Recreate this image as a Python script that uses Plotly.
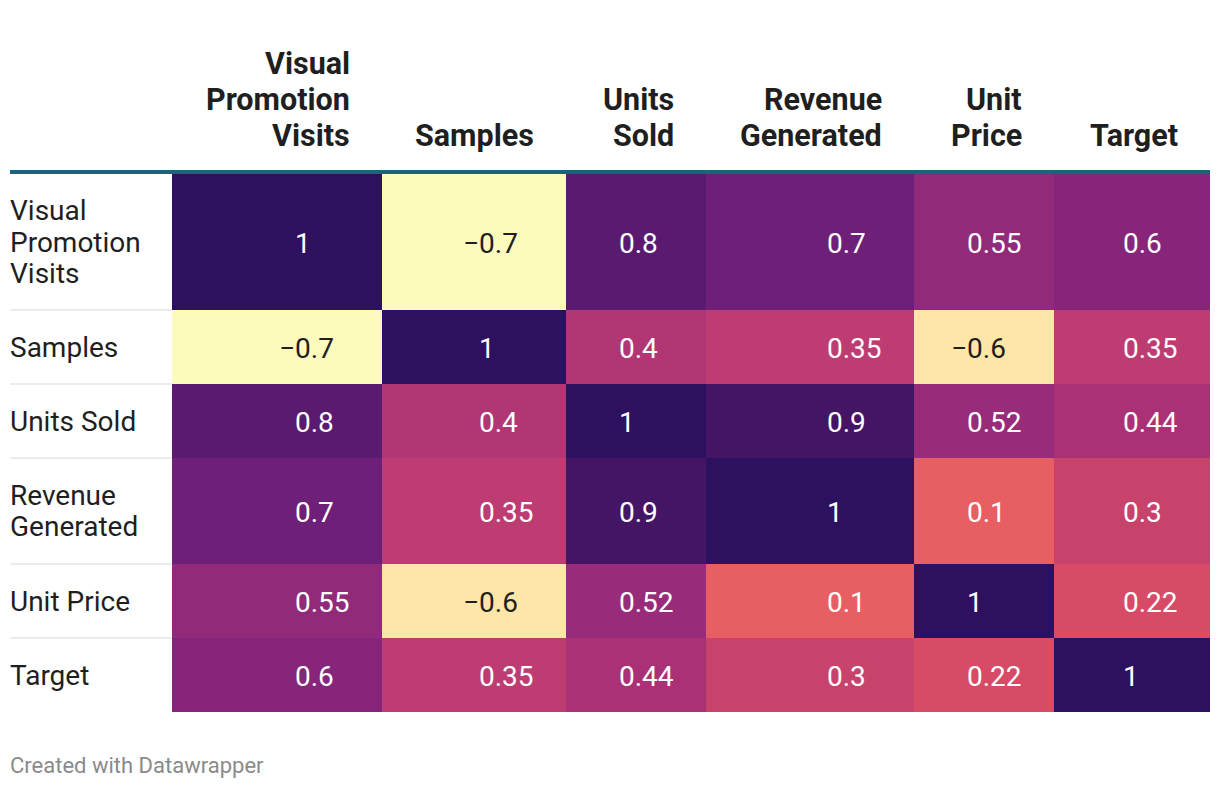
import plotly.graph_objects as go

# ---- data ----
row_labels = ["Visual<br>Promotion<br>Visits", "Samples", "Units Sold",
              "Revenue<br>Generated", "Unit Price", "Target"]
col_labels = ["Visual<br>Promotion<br>Visits", "Samples", "Units<br>Sold",
              "Revenue<br>Generated", "Unit<br>Price", "Target"]
corr = [
    [1.0, -0.7, 0.8, 0.7, 0.55, 0.6],
    [-0.7, 1.0, 0.4, 0.35, -0.6, 0.35],
    [0.8, 0.4, 1.0, 0.9, 0.52, 0.44],
    [0.7, 0.35, 0.9, 1.0, 0.1, 0.3],
    [0.55, -0.6, 0.52, 0.1, 1.0, 0.22],
    [0.6, 0.35, 0.44, 0.3, 0.22, 1.0],
]
footer = "Created with Datawrapper"

# ---- layout / style constants ----
OFF = 8                      # default page body margin
W, H = 1220 - OFF, 788 - 2 * OFF
col_edges = [172, 382, 566, 706, 914, 1054, 1210]
row_edges = [174, 310, 384, 458, 564, 638, 712]
ZMIN, ZMAX = -0.7, 1.0
color_anchors = [
    (-0.7, "#fcfabd"), (-0.6, "#fce6a8"), (0.1, "#e75f63"), (0.22, "#d74b67"),
    (0.3, "#c7436c"), (0.35, "#bd3c71"), (0.4, "#b23574"), (0.44, "#ab3177"),
    (0.52, "#982c7a"), (0.55, "#922a7a"), (0.6, "#86257a"), (0.7, "#6e2078"),
    (0.8, "#5a1a70"), (0.9, "#441565"), (1.0, "#2d1160"),
]
colorscale = [[(v - ZMIN) / (ZMAX - ZMIN), c] for v, c in color_anchors]
FONT = "Roboto"
TXT = "#1f1f1f"
PAD = 32

fig = go.Figure()
fig.add_trace(go.Heatmap(
    z=corr, x=col_edges, y=row_edges, zmin=ZMIN, zmax=ZMAX,
    colorscale=colorscale, showscale=False, hoverinfo="skip",
))

ann = []
shapes = []
base = dict(showarrow=False, borderpad=0, borderwidth=0)

# header lines
for j, lab in enumerate(col_labels):
    lines = lab.split("<br>")
    xr = col_edges[j + 1] - PAD
    n = len(lines)
    for k, ln in enumerate(lines):
        yc = 135 - (n - 1 - k) * 36
        ann.append(dict(x=xr, y=yc, text=ln, xanchor="right", yanchor="middle",
                        font=dict(family=FONT, size=30.5, color=TXT, weight="bold"),
                        **base))

# header rule
shapes.append(dict(type="line", x0=10, x1=1210, y0=172, y1=172,
                   line=dict(color="#19637b", width=4), layer="above"))

# row labels + separators
for i, lab in enumerate(row_labels):
    lines = lab.split("<br>")
    n = len(lines)
    yc0 = (row_edges[i] + row_edges[i + 1]) / 2
    for k, ln in enumerate(lines):
        yc = yc0 + (k - (n - 1) / 2) * 31.5
        ann.append(dict(x=10, y=yc, text=ln, xanchor="left", yanchor="middle",
                        font=dict(family=FONT, size=28, color=TXT), **base))
    if i > 0:
        shapes.append(dict(type="line", x0=10, x1=col_edges[0], y0=row_edges[i],
                           y1=row_edges[i], line=dict(color="#ececec", width=2),
                           layer="below"))

# cell values (decimal aligned)
def fmt(v):
    s = f"{v:g}"
    if "." in s:
        pad = "0" * (2 - len(s.split(".")[1]))
    else:
        pad = ".00"
    s = s.replace("-", "\u2212")
    if pad:
        s += f'<span style="color:rgba(0,0,0,0)">{pad}</span>'
    return s

for i, row in enumerate(corr):
    yc = (row_edges[i] + row_edges[i + 1]) / 2 + 1
    for j, v in enumerate(row):
        xr = col_edges[j + 1] - PAD
        col = "#1f1f1f" if v < 0 else "#ffffff"
        ann.append(dict(x=xr, y=yc, text=fmt(v), xanchor="right", yanchor="middle",
                        font=dict(family=FONT, size=28, color=col), **base))

ann.append(dict(x=10, y=765, text=footer, xanchor="left", yanchor="middle",
                font=dict(family=FONT, size=22, color="#8a8a8a"), **base))

fig.update_layout(
    width=W, height=H, margin=dict(l=0, r=0, t=0, b=0),
    paper_bgcolor="white", plot_bgcolor="white",
    xaxis=dict(range=[OFF, OFF + W], visible=False, fixedrange=True),
    yaxis=dict(range=[OFF + H, OFF], visible=False, fixedrange=True),
    annotations=ann, shapes=shapes, showlegend=False,
)
fig.write_html("out.html")
